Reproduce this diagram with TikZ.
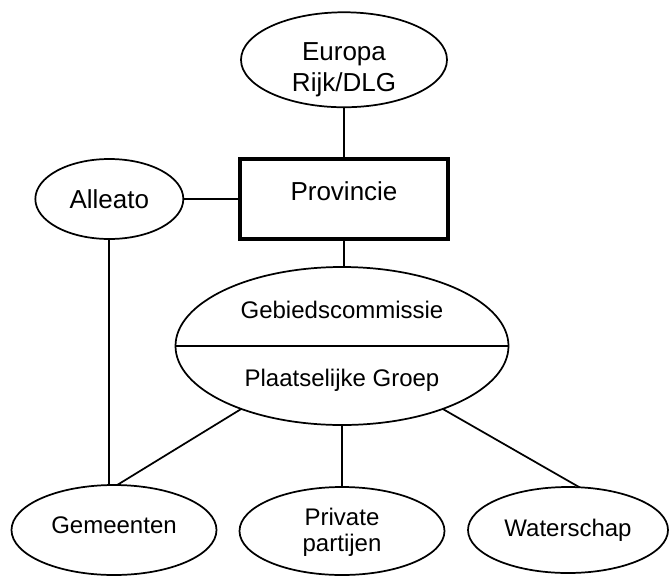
\documentclass[tikz,border=0pt]{standalone}
\usepackage{fontspec}
\setmainfont{Liberation Sans}
\usetikzlibrary{shapes,positioning}
\tikzset{
every node/.style={draw,line width=1.3pt,outer sep=0pt,inner sep=0pt,align=center},
style1/.style= {ellipse,font=\fontsize{19.5}{23.25}\selectfont},
style2/.style= {rectangle,line width=3pt,font=\fontsize{19.5}{23.25}\selectfont},
style3/.style= {ellipse,font=\fontsize{18}{19.5}\selectfont},
node distance = 1.5cm
}

\begin{document}
\begin{tikzpicture}[x=0.75pt,y=-0.75pt,line width=1.3pt]
\useasboundingbox (0,0) rectangle (670,578);

\node[style2,minimum width=156pt,minimum height=60pt,text depth=12pt] (prov) at (344,199) {Provincie};
\node[style1,above=38.8pt of prov,minimum width=154.5pt,minimum height=71.25pt,text height=51.4pt,inner ysep=-4pt] (europa) {Europa\\Rijk/DLG};
\node[style1,left=42.5pt of prov,minimum width=111pt,minimum height=60pt] (alleato) {Alleato};

\node[style3,minimum width=249.75pt,minimum height=118.5pt,font=\fontsize{18}{51.3}\selectfont] (gebied) at (342,346) {Gebiedscommissie\\Plaatselijke Groep};

\node[style3,minimum width=153.75pt,minimum height=67.5pt,text depth=8pt] (gemeenten) at (114,530) {Gemeenten};
\node[style3,minimum width=153.75pt,minimum height=66pt,text height=34.8pt] (private) at (342,531) {Private\\partijen};
\node[style3,minimum width=150pt,minimum height=64.5pt] (waterschap) at (568,530) {Waterschap};

% verbindingen
\draw (europa) -- (prov);
\draw (alleato) -- (prov);
\draw (prov.south) -- (prov.south |- gebied.north);
\draw (gebied.west) -- (gebied.east);
\draw (alleato.south) -- (alleato.south |- gemeenten.north);
\draw (gebied.212) -- (gemeenten.86);
\draw (gebied) -- (private);
\draw (gebied.328) -- (waterschap.75);
\end{tikzpicture}
\end{document}
